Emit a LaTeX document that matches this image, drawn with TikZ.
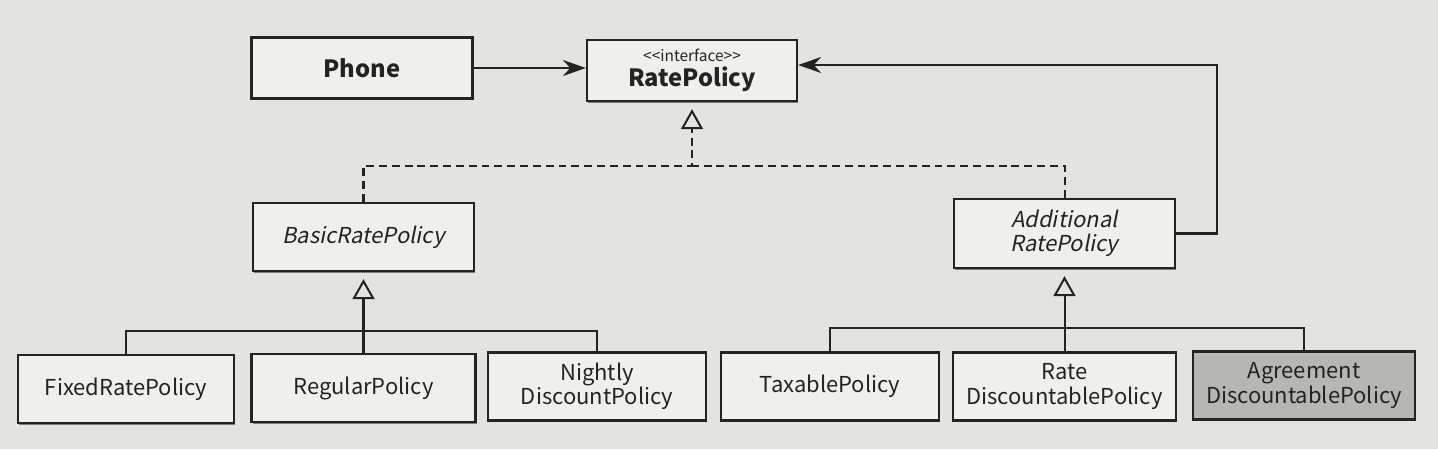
\documentclass[tikz,border=0pt]{standalone}
\usepackage{fontspec}
\setmainfont{Noto Sans CJK KR}[ItalicFont={Noto Sans CJK KR},ItalicFeatures={FakeSlant=0.2}]
\usetikzlibrary{arrows.meta,positioning,shadows}
\definecolor{page}{HTML}{E3E3E1}
\definecolor{boxfill}{HTML}{EFEFEE}
\definecolor{newfill}{HTML}{B6B6B4}
\definecolor{ink}{HTML}{232323}

\begin{document}
\begin{tikzpicture}[x=0.2mm,y=-0.2mm,
  cls/.style={draw=ink,line width=1.3pt,fill=boxfill,align=center,inner sep=2pt,
    minimum height=13.6mm,text=ink,font=\fontsize{12.5}{14}\selectfont,
    drop shadow={shadow xshift=0.6pt,shadow yshift=-0.9pt,fill=black,opacity=0.45}},
  abstract/.style={cls,font=\itshape\fontsize{12.5}{14}\selectfont},
  link/.style={ink,line width=1.15pt},
  dashline/.style={link,dash pattern=on 4.5pt off 2.8pt},
  realize/.style={dashline,-{Triangle[open,length=4mm,width=4.4mm]},shorten >=1.4mm},
  inherit/.style={link,-{Triangle[open,length=4mm,width=4.4mm]},shorten >=1.4mm},
  assoc/.style={link,-{Stealth[length=4.6mm,width=3.2mm]}}]
  \useasboundingbox (0,0) rectangle (1438,449);
  \fill[page] (0,0) rectangle (1438,449);

  % top row
  \node[cls,minimum width=44.2mm,minimum height=12.2mm,font=\bfseries\fontsize{13.5}{15}\selectfont] (phone) at (362,68) {Phone};
  \node[cls,minimum width=42mm,minimum height=12.2mm] (rate) at (692,70.5)
    {{\fontsize{8.8}{9.5}\selectfont <\kern0pt<interface>\kern0pt>}\\{\bfseries\fontsize{13.5}{15}\selectfont RatePolicy}};

  % abstract classes
  \node[abstract,minimum width=44.2mm] (basic) at (363.5,237) {BasicRatePolicy};
  \node[abstract,minimum width=44.2mm,minimum height=13.8mm] (additional) at (1064.5,233.5) {Additional\\RatePolicy};

  % concrete classes
  \node[cls,minimum width=43.2mm] (fixed) at (126,389) {FixedRatePolicy};
  \node[cls,minimum width=44.8mm] (regular) at (363.5,388) {RegularPolicy};
  \node[cls,minimum width=43.6mm] (nightly) at (597,386.5) {Nightly\\DiscountPolicy};
  \node[cls,minimum width=43.6mm] (taxable) at (830,386.5) {TaxablePolicy};
  \node[cls,minimum width=44.6mm] (ratedisc) at (1064.5,386.5) {Rate\\DiscountablePolicy};
  \node[cls,fill=newfill,minimum width=44.4mm] (agreement) at (1304,385.5) {Agreement\\DiscountablePolicy};

  % associations
  \draw[assoc] (phone.east) -- (phone.east -| rate.west);
  \coordinate (loop) at (1217,65);
  \draw[assoc] (additional.east) -| (loop) -- (loop -| rate.east);

  % realization
  \coordinate (hubR) at (rate.south |- 0,166);
  \draw[realize] (basic.north) |- (hubR) -- (rate.south);
  \draw[dashline] (additional.north) |- (hubR);

  % inheritance
  \coordinate (hubB) at (basic.south |- 0,331);
  \draw[inherit] (hubB) -- (basic.south);
  \draw[link] (fixed.north) |- (hubB) -| (nightly.north);
  \draw[link] (regular.north) -- (hubB);

  \coordinate (hubA) at (additional.south |- 0,328);
  \draw[inherit] (hubA) -- (additional.south);
  \draw[link] (taxable.north) |- (hubA) -| (agreement.north);
  \draw[link] (ratedisc.north) -- (hubA);
\end{tikzpicture}
\end{document}
